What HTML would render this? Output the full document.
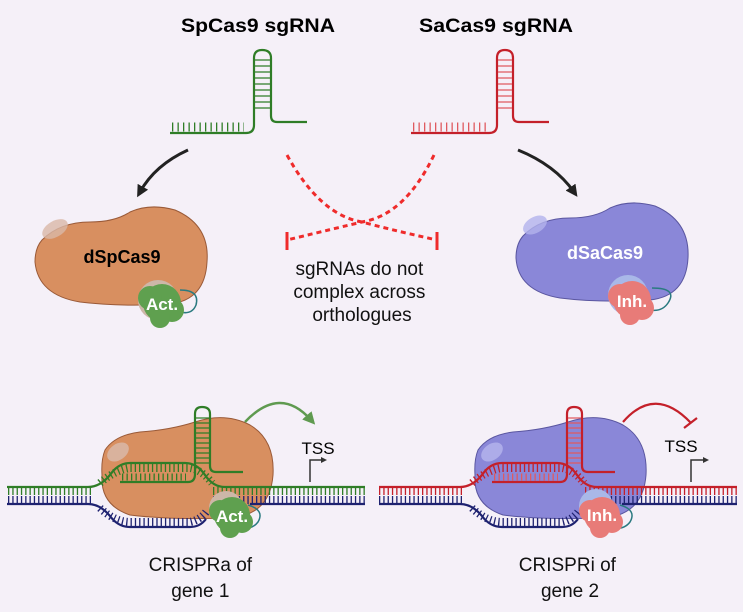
<!DOCTYPE html>
<html><head><meta charset="utf-8"><style>
html,body{margin:0;padding:0;background:#f5f0f8;}
svg{display:block;font-family:"Liberation Sans",sans-serif;}
</style></head><body>
<svg width="743" height="612" viewBox="0 0 743 612" xmlns="http://www.w3.org/2000/svg">
<rect width="743" height="612" fill="#f5f0f8"/>
<defs>
<marker id="ah" viewBox="0 0 10 10" refX="5" refY="5" markerWidth="4" markerHeight="4" orient="auto"><path d="M0,0 L10,5 L0,10 z" fill="#222"/></marker>
<marker id="gh" viewBox="0 0 10 10" refX="5" refY="5" markerWidth="5" markerHeight="5" orient="auto"><path d="M0,0 L10,5 L0,10 z" fill="#5f9a50"/></marker>
</defs>

<text x="258" y="32" font-size="19" font-weight="bold" text-anchor="middle" textLength="154" lengthAdjust="spacingAndGlyphs">SpCas9 sgRNA</text>
<text x="496" y="32" font-size="19" font-weight="bold" text-anchor="middle" textLength="154" lengthAdjust="spacingAndGlyphs">SaCas9 sgRNA</text>

<!-- green sgRNA -->
<g fill="none" stroke="#2f7d27" stroke-width="2.2">
<path d="M170,133 L246,133 Q254,133 254,125 L254,58 Q254,50 262,50 Q271,50 271,58 L271,116 Q271,122 277,122 L307,122"/>
<path d="M255,60 L270,60 M255,66 L270,66 M255,72 L270,72 M255,78 L270,78 M255,84 L270,84 M255,90 L270,90 M255,96 L270,96 M255,102 L270,102 M255,108 L270,108" stroke-width="1.3"/>
</g>
<line x1="172" y1="127" x2="244" y2="127" stroke="#2f7d27" stroke-width="9" stroke-dasharray="1.3 4.2"/>

<!-- red sgRNA -->
<g fill="none" stroke="#c4202a" stroke-width="2.2">
<path d="M411,133 L489,133 Q497,133 497,125 L497,58 Q497,50 505,50 Q513,50 513,58 L513,116 Q513,122 519,122 L549,122"/>
<path d="M498,60 L512,60 M498,66 L512,66 M498,72 L512,72 M498,78 L512,78 M498,84 L512,84 M498,90 L512,90 M498,96 L512,96 M498,102 L512,102 M498,108 L512,108" stroke-width="1.3" stroke="#e05a60"/>
</g>
<line x1="413" y1="127" x2="487" y2="127" stroke="#e05a60" stroke-width="9" stroke-dasharray="1.3 4.2"/>

<path d="M188,150 Q155,165 140,192" fill="none" stroke="#222" stroke-width="3" marker-end="url(#ah)"/>
<path d="M518,150 Q555,165 574,192" fill="none" stroke="#222" stroke-width="3" marker-end="url(#ah)"/>

<g fill="none" stroke="#ef2b2b" stroke-width="3" stroke-dasharray="5 4">
<path d="M287,155 Q320,215 362,222 Q400,232 437,240"/>
<path d="M434,155 Q405,215 362,222 Q320,232 287,240"/>
</g>
<path d="M287,232 L287,250 M437,232 L437,250" stroke="#ef2b2b" stroke-width="3"/>

<text font-size="19" text-anchor="middle" fill="#111">
<tspan x="362" y="275">sgRNAs do not</tspan>
<tspan x="362" y="298">complex across</tspan>
<tspan x="362" y="321">orthologues</tspan>
</text>

<!-- dSpCas9 -->
<path d="M42,240 Q60,222 90,222 Q115,222 130,212 Q150,203 175,210 Q210,225 207,262 Q205,300 170,304 Q120,307 80,302 Q38,295 35,262 Q35,248 42,240 Z" fill="#d88f60" stroke="#9a5a38" stroke-width="1"/>
<ellipse cx="55" cy="229" rx="14" ry="8" fill="#d9b8a8" opacity="0.8" transform="rotate(-30 55 229)"/>
<text x="122" y="263" font-size="18" font-weight="bold" text-anchor="middle">dSpCas9</text>
<path d="M180,290 Q200,290 196,305 Q192,315 180,312" fill="none" stroke="#2a7a80" stroke-width="1.5"/>
<circle cx="158" cy="300" r="20" fill="#cdb7a8"/>
<g fill="#5fa04f"><circle cx="162" cy="303" r="19"/><circle cx="150" cy="298" r="12"/><circle cx="172" cy="310" r="12"/><circle cx="160" cy="318" r="10"/></g>
<text x="162" y="310" font-size="17" font-weight="bold" text-anchor="middle" fill="#fff">Act.</text>

<!-- dSaCas9 -->
<path d="M523,236 Q540,218 570,218 Q595,218 610,208 Q630,199 655,206 Q690,221 688,258 Q686,296 650,300 Q600,303 560,298 Q518,291 516,258 Q516,244 523,236 Z" fill="#8a87d8" stroke="#5a56a0" stroke-width="1"/>
<ellipse cx="535" cy="225" rx="13" ry="8" fill="#b3b3ec" opacity="0.8" transform="rotate(-30 535 225)"/>
<text x="605" y="259" font-size="18" font-weight="bold" text-anchor="middle" fill="#fff">dSaCas9</text>
<path d="M652,288 Q678,288 668,303 Q662,312 650,310" fill="none" stroke="#2a7a80" stroke-width="1.5"/>
<circle cx="628" cy="295" r="20" fill="#a9b8e8"/>
<g fill="#e87b78"><circle cx="632" cy="300" r="19"/><circle cx="620" cy="296" r="12"/><circle cx="642" cy="308" r="12"/><circle cx="630" cy="315" r="10"/></g>
<text x="632" y="307" font-size="17" font-weight="bold" text-anchor="middle" fill="#fff">Inh.</text>

<!-- bottom left -->
<g>
<path d="M105,450 Q115,435 140,432 Q170,430 195,422 Q225,412 250,425 Q275,440 273,475 Q270,515 230,518 Q170,520 130,515 Q100,505 102,475 Q101,460 105,450 Z" fill="#d88f60" stroke="#9a5a38" stroke-width="1"/>
<ellipse cx="118" cy="452" rx="12" ry="8" fill="#d9b8a8" opacity="0.85" transform="rotate(-35 118 452)"/>
<g stroke-dasharray="1.3 3"><line x1="8" y1="491" x2="93" y2="491" stroke="#2f7d27" stroke-width="8"/><line x1="213" y1="491" x2="365" y2="491" stroke="#2f7d27" stroke-width="8"/>
<line x1="8" y1="500" x2="93" y2="500" stroke="#1e2270" stroke-width="8"/><line x1="213" y1="500" x2="365" y2="500" stroke="#1e2270" stroke-width="8"/></g>
<path d="M100,483 Q115,470 130,468 L190,468 Q202,470 212,483" fill="none" stroke="#2f7d27" stroke-width="8" stroke-dasharray="1.3 3"/>
<path d="M100,508 Q115,522 130,522 L190,522 Q200,520 206,512" fill="none" stroke="#1e2270" stroke-width="8" stroke-dasharray="1.3 3"/>
<path d="M7,487 L88,487 Q100,487 110,475 Q118,463 130,463 L185,463 Q197,463 205,475 Q213,487 225,487 L365,487" fill="none" stroke="#2f7d27" stroke-width="2.2"/>
<path d="M7,504 L88,504 Q100,504 110,516 Q118,527 130,527 L190,527 Q200,527 206,519" fill="none" stroke="#1e2270" stroke-width="2.2"/>
<path d="M250,504 L365,504" stroke="#1e2270" stroke-width="2.2"/>
<path d="M120,482 L188,482 Q195,482 195,474 L195,414 Q195,407 202,407 Q210,407 210,414 L210,466 Q210,472 216,472 L243,472" fill="none" stroke="#2f7d27" stroke-width="2.2"/>
<g stroke="#2f7d27" stroke-width="1.2"><path d="M196,418H209M196,423H209M196,428H209M196,433H209M196,438H209M196,443H209M196,448H209M196,453H209M196,458H209M196,463H209"/></g>
<line x1="122" y1="477" x2="186" y2="477" stroke="#2f7d27" stroke-width="7" stroke-dasharray="1.3 3.2"/>
<path d="M248,505 Q265,510 258,522 Q252,530 240,528" fill="none" stroke="#2a7a80" stroke-width="1.5"/>
<circle cx="226" cy="508" r="17" fill="#cdb7a8"/>
<g fill="#5fa04f"><circle cx="232" cy="515" r="18"/><circle cx="220" cy="511" r="11"/><circle cx="242" cy="522" r="11"/><circle cx="230" cy="528" r="10"/></g>
<text x="232" y="522" font-size="17" font-weight="bold" text-anchor="middle" fill="#fff">Act.</text>
<path d="M245,422 Q280,385 311,420" fill="none" stroke="#5f9a50" stroke-width="2.5" marker-end="url(#gh)"/>
<text x="318" y="454" font-size="17" text-anchor="middle">TSS</text>
<path d="M310,482 L310,460 L322,460" fill="none" stroke="#333" stroke-width="1.5"/>
<path d="M321,457 L327,460 L321,463 Z" fill="#333"/>
</g>

<!-- bottom right -->
<g>
<path d="M478,450 Q488,435 513,432 Q543,430 568,422 Q598,412 623,425 Q648,440 646,475 Q643,515 603,518 Q543,520 503,515 Q473,505 475,475 Q474,460 478,450 Z" fill="#8a87d8" stroke="#5a56a0" stroke-width="1"/>
<ellipse cx="492" cy="452" rx="12" ry="8" fill="#b3b3ec" opacity="0.85" transform="rotate(-35 492 452)"/>
<g stroke-dasharray="1.3 3"><line x1="379" y1="491" x2="464" y2="491" stroke="#c4202a" stroke-width="8"/><line x1="585" y1="491" x2="737" y2="491" stroke="#c4202a" stroke-width="8"/>
<line x1="379" y1="500" x2="464" y2="500" stroke="#1e2270" stroke-width="8"/><line x1="585" y1="500" x2="737" y2="500" stroke="#1e2270" stroke-width="8"/></g>
<path d="M472,483 Q487,470 502,468 L562,468 Q574,470 584,483" fill="none" stroke="#c4202a" stroke-width="8" stroke-dasharray="1.3 3"/>
<path d="M472,508 Q487,522 502,522 L562,522 Q572,520 578,512" fill="none" stroke="#1e2270" stroke-width="8" stroke-dasharray="1.3 3"/>
<path d="M379,487 L460,487 Q472,487 482,475 Q490,463 502,463 L557,463 Q569,463 577,475 Q585,487 597,487 L737,487" fill="none" stroke="#c4202a" stroke-width="2.2"/>
<path d="M379,504 L460,504 Q472,504 482,516 Q490,527 502,527 L562,527 Q572,527 578,519" fill="none" stroke="#1e2270" stroke-width="2.2"/>
<path d="M622,504 L737,504" stroke="#1e2270" stroke-width="2.2"/>
<path d="M492,482 L560,482 Q567,482 567,474 L567,414 Q567,407 574,407 Q582,407 582,414 L582,466 Q582,472 588,472 L615,472" fill="none" stroke="#c4202a" stroke-width="2.2"/>
<g stroke="#e05a60" stroke-width="1.2"><path d="M568,418H581M568,423H581M568,428H581M568,433H581M568,438H581M568,443H581M568,448H581M568,453H581M568,458H581M568,463H581"/></g>
<line x1="494" y1="477" x2="558" y2="477" stroke="#e05a60" stroke-width="7" stroke-dasharray="1.3 3.2"/>
<path d="M620,505 Q637,510 630,522 Q624,530 612,528" fill="none" stroke="#2a7a80" stroke-width="1.5"/>
<circle cx="596" cy="506" r="17" fill="#a9b8e8"/>
<g fill="#e87b78"><circle cx="602" cy="515" r="18"/><circle cx="590" cy="511" r="11"/><circle cx="612" cy="522" r="11"/><circle cx="600" cy="528" r="10"/></g>
<text x="602" y="521" font-size="17" font-weight="bold" text-anchor="middle" fill="#fff">Inh.</text>
<path d="M623,422 Q655,385 691,423" fill="none" stroke="#c4202a" stroke-width="2.2"/>
<path d="M684,428 L697,418" stroke="#c4202a" stroke-width="2.2"/>
<text x="681" y="452" font-size="17" text-anchor="middle">TSS</text>
<path d="M691,482 L691,460 L704,460" fill="none" stroke="#333" stroke-width="1.5"/>
<path d="M703,457 L709,460 L703,463 Z" fill="#333"/>
</g>

<text font-size="19" text-anchor="middle" fill="#111">
<tspan x="203" y="571">CRISPRa of</tspan>
<tspan x="203" y="597">gene 1</tspan>
<tspan x="570" y="571">CRISPRi of</tspan>
<tspan x="570" y="597">gene 2</tspan>
</text>
</svg>
</body></html>
